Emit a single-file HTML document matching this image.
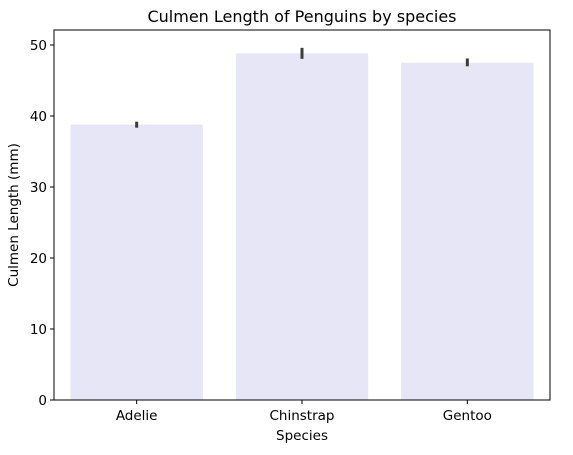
<!DOCTYPE html>
<html><head><meta charset="utf-8"><style>
body{margin:0;background:#fff;font-family:"Liberation Sans","DejaVu Sans",sans-serif;}
</style></head><body>
<svg id="chart" width="573" height="450" xmlns="http://www.w3.org/2000/svg" font-family="DejaVu Sans, Liberation Sans, sans-serif"></svg>
<script>
const categories=["Adelie","Chinstrap","Gentoo"];
const values=[38.79,48.83,47.50];
const errLow=[38.35,48.05,47.0];
const errHigh=[39.2,49.6,48.1];
const yTicks=[0,10,20,30,40,50];
const L=54,R=550,T=30,B=400;
const y=v=>B-v*7.1;
const band=(R-L)/categories.length;
const x=i=>L+band*(i+0.5);
const svg=document.getElementById('chart');
const NS='http://www.w3.org/2000/svg';
function mk(tag,attrs,parent){const e=document.createElementNS(NS,tag);for(const k in attrs)e.setAttribute(k,attrs[k]);(parent||svg).appendChild(e);return e;}
categories.forEach((c,i)=>{
  const bw=band*0.8;
  const r=mk('rect',{x:x(i)-bw/2,y:y(values[i]),width:bw,height:B-y(values[i]),fill:'#e6e6f7'});
  
  
  const e=mk('line',{x1:x(i),x2:x(i),y1:y(errLow[i]),y2:y(errHigh[i]),stroke:'#3d3d3d','stroke-width':3});
  
  
  const tk=mk('line',{x1:x(i),x2:x(i),y1:B,y2:B+4,stroke:'#000'});
  
  
  const t=mk('text',{x:x(i),y:B+20,'text-anchor':'middle','font-size':13.5,fill:'#000'});
  t.textContent=c;
  
  
});
yTicks.forEach(v=>{
  const tk=mk('line',{x1:L-4,x2:L,y1:y(v),y2:y(v),stroke:'#000'});
  
  
  const t=mk('text',{x:L-7,y:y(v)+5,'text-anchor':'end','font-size':13.5,fill:'#000'});
  t.textContent=v;
  
  
});
const fr=mk('rect',{x:L,y:T,width:R-L,height:B-T,fill:'none',stroke:'#000','stroke-width':1});


const ti=mk('text',{x:(L+R)/2,y:22,'text-anchor':'middle','font-size':16,fill:'#000'});
ti.textContent='Culmen Length of Penguins by species';


const xt=mk('text',{x:(L+R)/2,y:440,'text-anchor':'middle','font-size':13.5,fill:'#000'});
xt.textContent='Species';


const yt=mk('text',{x:0,y:0,'text-anchor':'middle','font-size':13.5,fill:'#000',transform:'translate(18,'+((T+B)/2)+') rotate(-90)'});
yt.textContent='Culmen Length (mm)';


</script>
</body></html>
